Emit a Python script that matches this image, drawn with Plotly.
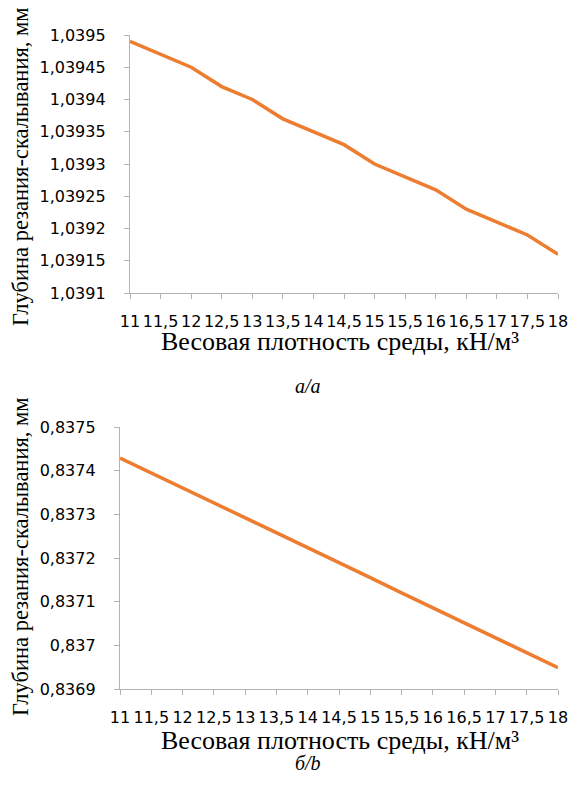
import plotly.graph_objects as go

W, H = 570, 794

categories = ["11", "11,5", "12", "12,5", "13", "13,5", "14", "14,5",
              "15", "15,5", "16", "16,5", "17", "17,5", "18"]

depth_a = [1.03949, 1.03947, 1.03945, 1.03942, 1.03940, 1.03937, 1.03935, 1.03933,
           1.03930, 1.03928, 1.03926, 1.03923, 1.03921, 1.03919, 1.03916]

depth_b = [0.837429, 0.837395, 0.837361, 0.837326, 0.837292, 0.837258, 0.837223, 0.837189,
           0.837155, 0.837120, 0.837086, 0.837052, 0.837017, 0.836983, 0.836949]

ytick_vals_a = [1.0391, 1.03915, 1.0392, 1.03925, 1.0393, 1.03935, 1.0394, 1.03945, 1.0395]
ytick_text_a = ["1,0391", "1,03915", "1,0392", "1,03925", "1,0393", "1,03935", "1,0394", "1,03945", "1,0395"]

ytick_vals_b = [0.8369, 0.8370, 0.8371, 0.8372, 0.8373, 0.8374, 0.8375]
ytick_text_b = ["0,8369", "0,837", "0,8371", "0,8372", "0,8373", "0,8374", "0,8375"]

y_title = "Глубина резания-скалывания, мм"
x_title = "Весовая плотность среды, кН/м³"
label_a = "a/a"
label_b = "б/b"

LINE = "#ED7D31"
AX = "#b3b3b3"
TICKFONT = dict(family="DejaVu Sans", size=16, color="#000000")
SERIF = "Liberation Serif, Times New Roman, serif"


def px_y(p):
    return 1 - p / H


def px_x(p):
    return p / W


fig = go.Figure()
fig.add_trace(go.Scatter(x=categories, y=depth_a, mode="lines",
                         line=dict(color=LINE, width=3.5), xaxis="x", yaxis="y",
                         showlegend=False, hoverinfo="skip"))
fig.add_trace(go.Scatter(x=categories, y=depth_b, mode="lines",
                         line=dict(color=LINE, width=3.5), xaxis="x2", yaxis="y2",
                         showlegend=False, hoverinfo="skip"))

xcommon = dict(type="category", range=[0, len(categories) - 1], showgrid=False,
               showline=True, linecolor=AX, linewidth=1.3, ticks="outside",
               ticklen=5, tickcolor=AX, tickwidth=1.3, tickfont=TICKFONT,
               tickangle=0, ticklabelstandoff=9, zeroline=False, fixedrange=True,
               automargin=False)
ycommon = dict(showgrid=False, showline=True, linecolor=AX, linewidth=1.3,
               ticks="outside", ticklen=5, tickcolor=AX, tickwidth=1.3,
               tickfont=TICKFONT, ticklabelstandoff=15, zeroline=False, fixedrange=True,
               automargin=False)

fig.update_layout(
    template="none",
    width=W, height=H,
    margin=dict(l=0, r=0, t=0, b=0, autoexpand=False),
    paper_bgcolor="white", plot_bgcolor="white",
    xaxis=dict(xcommon, domain=[px_x(130), px_x(558)], anchor="y"),
    yaxis=dict(ycommon, domain=[px_y(293), px_y(35)], anchor="x",
               range=[1.0391, 1.0395], tickvals=ytick_vals_a, ticktext=ytick_text_a),
    xaxis2=dict(xcommon, domain=[px_x(120), px_x(558)], anchor="y2"),
    yaxis2=dict(ycommon, domain=[px_y(689), px_y(427)], anchor="x2",
                range=[0.8369, 0.8375], tickvals=ytick_vals_b, ticktext=ytick_text_b),
)

ann = []
for yc in (167, 557):
    ann.append(dict(text=y_title, x=px_x(20), y=px_y(yc), xref="paper", yref="paper",
                    xanchor="center", yanchor="middle", textangle=-90, showarrow=False,
                    font=dict(family=SERIF, size=22.5, color="#000")))
for yc, lab, ylab in ((342, label_a, 386), (740, label_b, 763)):
    ann.append(dict(text=x_title, x=px_x(340), y=px_y(yc), xref="paper", yref="paper",
                    xanchor="center", yanchor="middle", showarrow=False,
                    font=dict(family=SERIF, size=26, color="#000")))
    ann.append(dict(text="<i>" + lab + "</i>", x=px_x(308), y=px_y(ylab), xref="paper",
                    yref="paper", xanchor="center", yanchor="middle", showarrow=False,
                    font=dict(family=SERIF, size=20, color="#000")))
fig.update_layout(annotations=ann)

fig.write_html("out.html", config={"displayModeBar": False},
               post_script="document.body.style.margin='0px';")
